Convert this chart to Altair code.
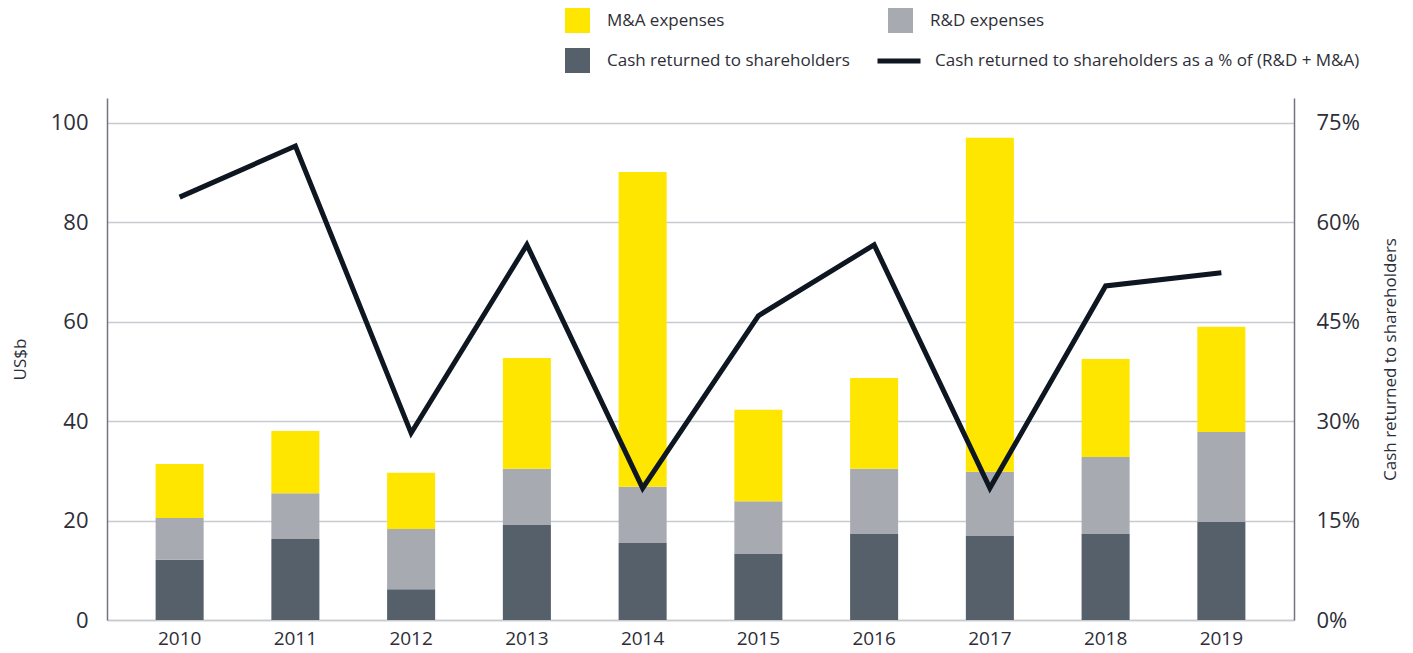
import altair as alt
import pandas as pd

years = ["2010", "2011", "2012", "2013", "2014", "2015", "2016", "2017", "2018", "2019"]
cash = [12.1, 16.3, 6.2, 19.1, 15.5, 13.3, 17.3, 16.9, 17.3, 19.7]
rd = [8.4, 9.2, 12.1, 11.3, 11.3, 10.6, 13.1, 12.9, 15.5, 18.1]
ma = [10.9, 12.5, 11.3, 22.3, 63.3, 18.4, 18.3, 67.2, 19.7, 21.2]
pct = [0.638, 0.715, 0.282, 0.566, 0.199, 0.459, 0.566, 0.199, 0.504, 0.524]

series_names = ["M&A expenses", "R&D expenses", "Cash returned to shareholders"]
line_name = "Cash returned to shareholders as a % of (R&D + M&A)"
colors = ["#FFE600", "#A7ABB1", "#55606B"]
line_color = "#0E1621"

rows = []
for i, y in enumerate(years):
    rows.append({"year": y, "series": series_names[2], "value": cash[i], "ord": 0})
    rows.append({"year": y, "series": series_names[1], "value": rd[i], "ord": 1})
    rows.append({"year": y, "series": series_names[0], "value": ma[i], "ord": 2})
bars_df = pd.DataFrame(rows)
line_df = pd.DataFrame({"year": years, "pct": pct, "series": [line_name] * len(years)})

FONT = "Open Sans"
TXT = "#2E2E38"
NOVIEW = alt.ViewBackground(stroke="transparent", strokeWidth=0)

xaxis = alt.Axis(
    title=None, labelAngle=0, labelFontSize=19, labelPadding=9, ticks=False,
    domainColor="#C8CAD0", domainWidth=1.5, labelColor=TXT, labelFont=FONT,
)
xscale = alt.Scale(paddingInner=0.585, paddingOuter=0.42)

bars = alt.Chart(bars_df).mark_bar().encode(
    x=alt.X("year:N", sort=years, scale=xscale, axis=xaxis),
    y=alt.Y(
        "value:Q",
        stack="zero",
        scale=alt.Scale(domain=[0, 105], nice=False),
        axis=alt.Axis(
            title="US$b", values=[0, 20, 40, 60, 80, 100], labelFontSize=22,
            labelPadding=19, ticks=False, domainColor="#747480", domainWidth=1.5,
            gridColor="#C8CAD0", gridWidth=1.5, titleFontSize=17, titleFontWeight="normal",
            titleColor=TXT, labelColor=TXT, labelFont=FONT, titleFont=FONT, titlePadding=21,
        ),
    ),
    color=alt.Color(
        "series:N",
        scale=alt.Scale(domain=series_names, range=colors),
        legend=alt.Legend(
            title=None, orient="none", legendX=458, legendY=-90, columns=2,
            direction="horizontal",
            symbolType="square", symbolSize=625, symbolStrokeWidth=0, symbolOpacity=1,
            labelFontSize=17, labelOffset=17, rowPadding=15, columnPadding=38,
            labelLimit=600, padding=0, labelColor=TXT, labelFont=FONT,
        ),
    ),
    order=alt.Order("ord:Q", sort="ascending"),
).properties(view=NOVIEW)

line = alt.Chart(line_df).mark_line(strokeWidth=5, strokeJoin="miter", strokeCap="butt").encode(
    x=alt.X("year:N", sort=years, scale=xscale, axis=xaxis),
    y=alt.Y(
        "pct:Q",
        scale=alt.Scale(domain=[0, 0.7875], nice=False),
        axis=alt.Axis(
            orient="right", title="Cash returned to shareholders", format=".0%",
            values=[0, 0.15, 0.3, 0.45, 0.6, 0.75], labelFontSize=22, labelPadding=22,
            ticks=False, grid=False, domainColor="#747480", domainWidth=1.5,
            titleFontSize=17, titleFontWeight="normal", titleColor=TXT, labelColor=TXT,
            labelFont=FONT, titleFont=FONT, titlePadding=40, titleAngle=270,
        ),
    ),
    color=alt.Color(
        "series:N",
        scale=alt.Scale(domain=[line_name], range=[line_color]),
        legend=alt.Legend(
            title=None, orient="none", legendX=768, legendY=-61,
            symbolType="stroke", symbolSize=1849, symbolStrokeWidth=5,
            labelFontSize=17, labelOffset=12, labelLimit=600, padding=0,
            labelColor=TXT, labelFont=FONT,
        ),
    ),
).properties(view=NOVIEW)

chart = (
    alt.layer(bars, line)
    .resolve_scale(y="independent", color="independent")
    .properties(
        width=1187, height=522,
        padding={"left": 99, "top": 90, "right": 110, "bottom": 32},
        autosize=alt.AutoSizeParams(type="none"),
        view=NOVIEW,
    )
    .configure_view(stroke=None, strokeWidth=0)
    .configure(font=FONT)
)

chart.save("out.html", embed_options={"renderer": "svg", "actions": False})
